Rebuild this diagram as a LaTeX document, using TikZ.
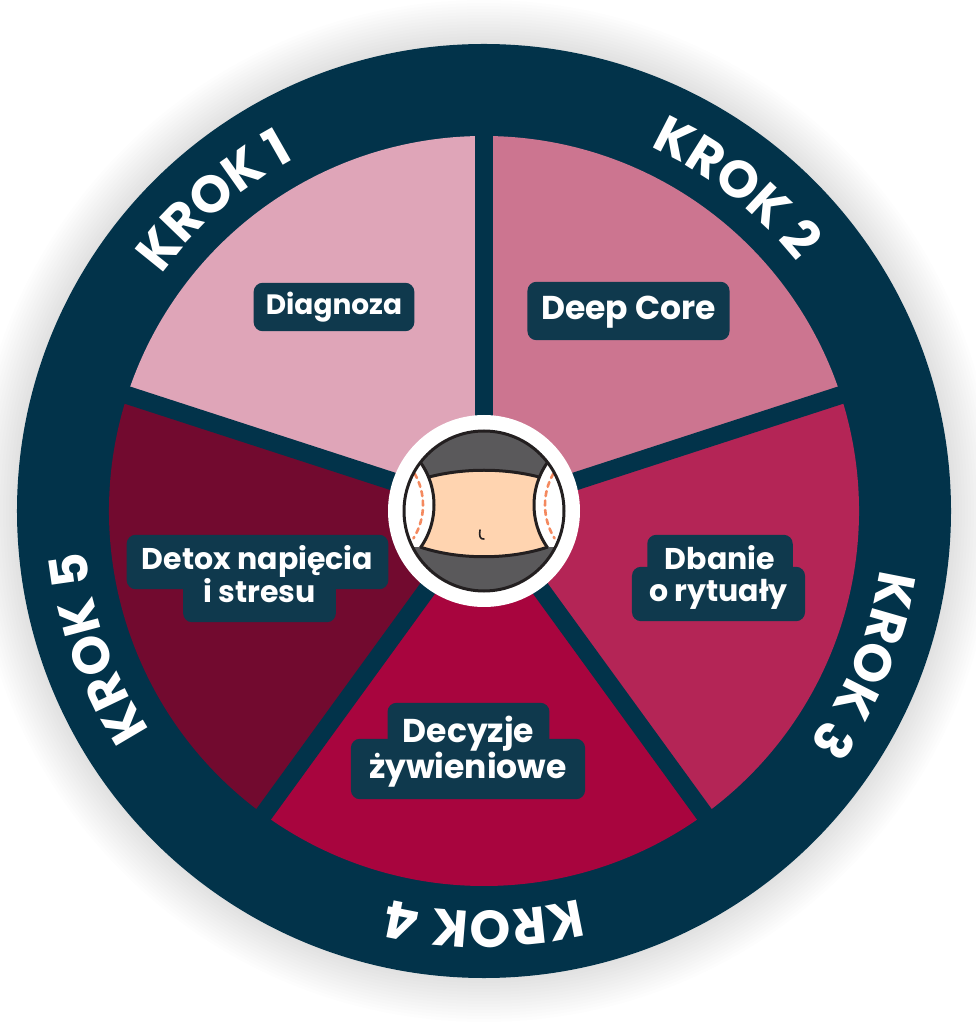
\documentclass[tikz,border=0pt]{standalone}
\usepackage{fontspec}
\newfontfamily\popf{Poppins}
\usetikzlibrary{decorations.text}
\pgfdeclarelayer{lbg}
\pgfdeclarelayer{ltxt}
\pgfsetlayers{main,lbg,ltxt}
\definecolor{ring}{HTML}{02334A}
\definecolor{labbg}{HTML}{0F394D}
\definecolor{sA}{HTML}{DFA5B8}
\definecolor{sB}{HTML}{CC7590}
\definecolor{sC}{HTML}{B42556}
\definecolor{sD}{HTML}{A8053E}
\definecolor{sE}{HTML}{720A2F}
\definecolor{beltgray}{HTML}{5A595B}
\definecolor{skin}{HTML}{FFD4B0}
\definecolor{dashor}{HTML}{F4895F}
\definecolor{outl}{HTML}{231F20}
\newcommand\krokfont{\popf\bfseries\fontsize{52}{52}\selectfont}
\newcommand\labfontA{\popf\bfseries\fontsize{28}{28}\selectfont}
\newcommand\labfontB{\popf\bfseries\fontsize{33}{33}\selectfont}
\newcommand\labfontC{\popf\bfseries\fontsize{30}{30}\selectfont}
\newcommand\labfontD{\popf\bfseries\fontsize{33}{33}\selectfont}
\tikzset{
  lab/.style={text=white, inner xsep=15pt, inner ysep=11pt,
    text height=24pt, text depth=8pt, anchor=base, font=\labfontC},
  krok/.style={decorate, decoration={text along path, text={|\krokfont|#1}, text align=center, text color=white}},
  iconline/.style={draw=outl, line width=3pt},
  labfill/.style={fill=labbg, rounded corners=9pt},
}
\begin{document}
\begin{tikzpicture}[x=1pt,y=1pt]
\useasboundingbox (-484,-513) rectangle (491,511);
\fill[white] (-484,-513) rectangle (491,511);
% soft shadow
\foreach \r in {469,472,...,511} \fill[black,opacity=0.008] (0,0) circle[radius=\r pt];
% ring
\fill[ring] (0,0) circle[radius=467pt];
% sectors
\fill[sA] (0,0) -- (90:375pt) arc[start angle=90,end angle=162,radius=375pt] -- cycle;
\fill[sB] (0,0) -- (18:375pt) arc[start angle=18,end angle=90,radius=375pt] -- cycle;
\fill[sC] (0,0) -- (-54:375pt) arc[start angle=-54,end angle=18,radius=375pt] -- cycle;
\fill[sD] (0,0) -- (-126:375pt) arc[start angle=-126,end angle=-54,radius=375pt] -- cycle;
\fill[sE] (0,0) -- (162:375pt) arc[start angle=162,end angle=234,radius=375pt] -- cycle;
\foreach \a in {90,18,-54,-126,162} \draw[ring,line width=18pt] (0,0) -- (\a:385pt);
% KROK labels
\path[krok={KROK 1}] (176:400pt) arc[start angle=176,end angle=86,radius=400pt];
\path[krok={KROK 2}] (97:400pt) arc[start angle=97,end angle=7,radius=400pt];
\path[krok={KROK 3}] (23:400pt) arc[start angle=23,end angle=-67,radius=400pt];
\path[krok={KROK 4}] (-45:400pt) arc[start angle=-45,end angle=-135,radius=400pt];
\path[krok={KROK 5}] (244.5:400pt) arc[start angle=244.5,end angle=154.5,radius=400pt];
% centre
\fill[white] (0,0) circle[radius=96pt];
\begin{scope}
  \clip (0,0) circle[radius=80pt];
  \fill[beltgray] (-90,-90) rectangle (90,90);
  \fill[skin] (-90,34) -- (-55,34) .. controls (-20,43) and (20,43) .. (55,34) -- (90,34)
     -- (90,-36) -- (64,-36) .. controls (25,-49) and (-25,-49) .. (-64,-36) -- (-90,-36) -- cycle;
  \begin{scope}
    \clip (-90,90) -- (90,90) -- (90,-36) -- (64,-36) .. controls (25,-49) and (-25,-49) .. (-64,-36) -- (-90,-36) -- cycle;
    \fill[white] (-124,6) circle[radius=74pt];
    \fill[white] (124,6) circle[radius=74pt];
    \draw[dashor, line width=2.6pt, dash pattern=on 5pt off 4.5pt, line cap=round]
      (-124,6) ++(30:63pt) arc[start angle=30,end angle=-32,radius=63pt];
    \draw[dashor, line width=2.6pt, dash pattern=on 5pt off 4.5pt, line cap=round]
      (124,6) ++(150:63pt) arc[start angle=150,end angle=212,radius=63pt];
    \draw[iconline] (-124,6) circle[radius=74pt];
    \draw[iconline] (124,6) circle[radius=74pt];
  \end{scope}
  \draw[iconline] (-55,34) .. controls (-20,43) and (20,43) .. (55,34);
  \draw[iconline] (64,-36) .. controls (25,-49) and (-25,-49) .. (-64,-36);
  \draw[outl, line width=1.6pt, line cap=round] (-4,-19) .. controls (-5,-25) and (-4,-28.5) .. (0,-28);
\end{scope}
\draw[iconline] (0,0) circle[radius=80pt];
% step labels
\begin{pgfonlayer}{ltxt}
\node[lab, font=\labfontA, inner xsep=12pt, text height=22pt, text depth=6pt, inner ysep=10pt] (diag) at (-150,196) {Diagnoza};
\node[lab, font=\labfontB, inner xsep=13.5pt, text height=26pt, text depth=8pt, inner ysep=12pt] (deep) at (144.5,191) {Deep Core};
\node[lab] (detoxa) at (-226.5,-59) {Detox napięcia};
\node[lab, inner xsep=20pt] (detoxb) at (-224.5,-92) {i stresu};
\node[lab, inner xsep=17.5pt] (dbana) at (236,-59) {Dbanie};
\node[lab, inner xsep=17pt] (dbanb) at (234.5,-91) {o rytuały};
\node[lab, font=\labfontD, text height=27pt, text depth=9pt, inner ysep=12pt] (deca) at (-15.5,-231) {Decyzje};
\node[lab, font=\labfontD, inner xsep=18pt, text height=27pt, text depth=9pt, inner ysep=12pt] (decb) at (-16,-267) {żywieniowe};
\end{pgfonlayer}
\begin{pgfonlayer}{lbg}
\foreach \n in {diag,deep,detoxa,detoxb,dbana,dbanb,deca,decb}
  \fill[labfill] (\n.south west) rectangle (\n.north east);
\end{pgfonlayer}
\end{tikzpicture}
\end{document}
